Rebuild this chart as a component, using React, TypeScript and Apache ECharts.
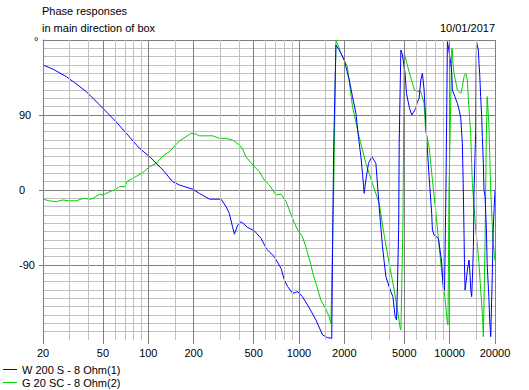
import React, { useEffect, useRef } from 'react';
import * as echarts from 'echarts';

const blueName = 'W 200 S - 8 Ohm(1)';
const greenName = 'G 20 SC - 8 Ohm(2)';

const blueFreq = [20, 23.3, 28.6, 32.3, 38.8, 50, 61, 71.5, 87.4, 102, 125, 145, 161, 197, 218, 255, 304, 328, 345, 362, 373, 392, 413, 457, 506, 560, 610, 686, 760, 800, 841, 908, 980, 1054, 1141, 1297, 1434, 1540, 1650, 1675, 1700, 1759, 1850, 1997, 2156, 2266, 2388, 2480, 2577, 2640, 2710, 2778, 2894, 3048, 3240, 3406, 3583, 3774, 4072, 4200, 4348, 4440, 4505, 4590, 4625, 4744, 4860, 5060, 5170, 5416, 5610, 5960, 6112, 6272, 6436, 6596, 6768, 7010, 7306, 7600, 7684, 7886, 8420, 8816, 8920, 9090, 9250, 9450, 9662, 9880, 10170, 10330, 10424, 10840, 11250, 11560, 11850, 12140, 12300, 12450, 12560, 12660, 12900, 13110, 13450, 13680, 13810, 14000, 14150, 14380, 14520, 14900, 15000, 15080, 15500, 15660, 15820, 16070, 16320, 16480, 16740, 16900, 17180, 17360, 17540, 17740, 18200, 18450, 18730, 19150, 19450, 20000];
const bluePhase = [150, 145, 136, 129, 118, 98, 82, 68, 50, 40, 24, 10, 6, 1, -4, -11, -11, -20, -28, -44, -53, -42, -38, -45, -49, -58, -71, -80, -94, -108, -116, -124, -122, -128, -138, -156, -174, -177, -178, -48, 52, 174, 168, 156, 132, 112, 92, 64, 40, 20, -4, 12, 32, 40, 32, -20, -68, -104, -122, -128, -152, -156, -116, -44, 56, 168, 162, 140, 116, 98, 90, 98, 106, 110, 132, 140, 120, 68, 16, -28, -48, -54, -58, -84, -96, -120, -120, 0, 178, 168, 152, 140, 120, 112, 104, 96, 86, 56, 8, -48, -96, -120, -108, -96, -84, -104, -120, -128, -108, -68, 0, 72, 152, 178, 168, 152, 140, 112, 88, 64, 32, 0, -8, -28, -48, -88, -128, -156, -176, -108, -48, 0];

const greenFreq = [20, 22, 24.5, 27, 30, 33.3, 36.9, 41, 43, 47.5, 50, 55.5, 61, 64.5, 70, 72, 79, 92, 102, 113, 125, 138, 161, 178, 192, 208, 218, 268, 296, 328, 362, 402, 421, 444, 494, 546, 588, 635, 704, 760, 823, 862, 935, 980, 1054, 1110, 1208, 1236, 1297, 1396, 1500, 1586, 1630, 1700, 1760, 1902, 2094, 2266, 2506, 2778, 3072, 3406, 3690, 3966, 4286, 4505, 4694, 4750, 4900, 5000, 5416, 5840, 6272, 6436, 6768, 6920, 7306, 7684, 8114, 8520, 8920, 9290, 9662, 9750, 9900, 10330, 10424, 10520, 10700, 11020, 11250, 11560, 11850, 12140, 12460, 12800, 13110, 13280, 13560, 13810, 14000, 14150, 14520, 14900, 15300, 15660, 16070, 16480, 16740, 16900, 17200, 17500, 17740, 18200, 18730, 19150, 19450, 20000];
const greenPhase = [-11, -13, -14, -12, -13, -13, -10, -11, -10, -5, -6, -2, 1, 4, 4, 10, 14, 21, 28, 32, 41, 46, 59, 64, 68, 67, 65, 65, 62, 62, 60, 54, 50, 40, 30, 22, 12, 6, -6, -5, -14, -24, -40, -48, -56, -68, -92, -100, -112, -132, -142, -152, -160, 0, 180, 164, 148, 100, 64, 32, 8, -16, -56, -88, -120, -144, -166, -168, -40, 164, 140, 120, 118, 118, 104, 72, 52, 12, -28, -68, -104, -128, -160, -162, 0, 170, 168, 152, 140, 128, 120, 118, 116, 124, 136, 140, 132, 112, 88, 64, 32, 8, -20, -48, -68, -88, -120, -148, -176, -176, -60, 60, 112, 80, 0, -40, -64, -85];

const majorFreqs = [20, 50, 100, 200, 500, 1000, 2000, 5000, 10000, 20000];
const minorFreqs = [30, 40, 60, 70, 80, 90, 150, 300, 400, 600, 700, 800, 900, 1500, 3000, 4000, 6000, 7000, 8000, 9000, 15000];
const phaseMajor = [-90, 0, 90];
const phaseMinor = [-170, -160, -150, -140, -130, -120, -110, -100, -80, -70, -60, -50, -40, -30, -20, -10, 10, 20, 30, 40, 50, 60, 70, 80, 100, 110, 120, 130, 140, 150, 160, 170];

const FONT = '"Liberation Sans", Arial, sans-serif';
const LIGHT = '#c0c0c0';
const DARK = '#808080';

export default function App() {
  const ref = useRef<HTMLDivElement>(null);
  useEffect(() => {
    if (!ref.current) return;
    const chart = echarts.init(ref.current, null, { renderer: 'svg' });
    const zip = (fs: number[], ps: number[]) => fs.map((f, i) => [f, ps[i]]);
    const logAxisBase = { type: 'log', logBase: 10, min: 20, max: 20000, gridIndex: 0 };
    const vLines = (vals: number[], color: string, z: number, name: string) => ({
      name, type: 'line', xAxisIndex: 0, yAxisIndex: 0, data: [], z, silent: true,
      markLine: {
        silent: true, symbol: ['none', 'none'], animation: false,
        label: { show: false },
        lineStyle: { color, width: 1, type: 'solid' },
        emphasis: { disabled: true },
        data: vals.map((f) => ({ xAxis: f })),
      },
    });
    chart.setOption({
      animation: false,
      backgroundColor: '#ffffff',
      title: [
        {
          text: 'Phase responses\nin main direction of box',
          left: 42, top: 2, padding: 0,
          textStyle: { fontSize: 11, fontWeight: 'normal', color: '#000', fontFamily: FONT, lineHeight: 17 },
        },
        {
          text: '10/01/2017',
          right: 34, top: 19, padding: 0,
          textStyle: { fontSize: 11, fontWeight: 'normal', color: '#000', fontFamily: FONT, lineHeight: 17 },
        },
      ],
      graphic: [
        { type: 'text', left: 34, top: 35, style: { text: '°', fontSize: 11, fill: '#000', fontFamily: FONT } },
      ],
      legend: {
        orient: 'vertical', left: 3, top: 363, padding: 0,
        itemWidth: 14, itemHeight: 1, itemGap: 0, icon: 'rect',
        data: [blueName, greenName],
        textStyle: { fontSize: 11, color: '#000', fontFamily: FONT, lineHeight: 13 },
        selectedMode: false,
      },
      grid: { left: 43, right: 34, top: 40, bottom: 50, containLabel: false },
      xAxis: [
        {
          ...logAxisBase, position: 'bottom',
          axisLine: { show: false, onZero: false },
          axisTick: { show: true, customValues: majorFreqs, length: 4, lineStyle: { color: DARK } },
          axisLabel: {
            show: true, customValues: majorFreqs, margin: 7,
            fontSize: 11, color: '#000', fontFamily: FONT,
            formatter: (v: number) => String(Math.round(v)),
          },
          minorTick: { show: false },
          minorSplitLine: { show: false },
          splitLine: { show: false },
        },
        {
          ...logAxisBase, position: 'top',
          axisLine: { show: true, onZero: false, lineStyle: { color: DARK, width: 1 } },
          axisTick: { show: false },
          axisLabel: { show: false },
          splitLine: { show: false },
          minorSplitLine: { show: false },
        },
      ],
      yAxis: [
        {
          type: 'value', min: -180, max: 180, position: 'left',
          axisLine: { show: false, onZero: false },
          axisTick: { show: true, customValues: phaseMinor, length: 0, lineStyle: { color: 'rgba(0,0,0,0)' } },
          axisLabel: { show: false },
          splitLine: { show: true, lineStyle: { color: LIGHT, width: 1 } },
          z: 0,
        },
        {
          type: 'value', min: -180, max: 180, position: 'left',
          axisLine: { show: true, onZero: false, lineStyle: { color: DARK, width: 1 } },
          axisTick: { show: true, customValues: phaseMajor, length: 4, lineStyle: { color: DARK } },
          axisLabel: {
            show: true, customValues: phaseMajor, align: 'left', margin: 24,
            fontSize: 11, color: '#000', fontFamily: FONT,
          },
          splitLine: { show: true, lineStyle: { color: DARK, width: 1 } },
          z: 1,
        },
      ],
      series: [
        vLines(minorFreqs, LIGHT, 0, 'minor-grid'),
        vLines(majorFreqs, DARK, 1, 'major-grid'),
        {
          name: blueName, type: 'line', xAxisIndex: 0, yAxisIndex: 0,
          data: zip(blueFreq, bluePhase), symbol: 'none', z: 4,
          lineStyle: { color: '#0000ff', width: 1 }, itemStyle: { color: '#0000ff' },
          emphasis: { disabled: true },
        },
        {
          name: greenName, type: 'line', xAxisIndex: 0, yAxisIndex: 0,
          data: zip(greenFreq, greenPhase), symbol: 'none', z: 3,
          lineStyle: { color: '#00d000', width: 1 }, itemStyle: { color: '#00d000' },
          emphasis: { disabled: true },
        },
      ],
    });
    return () => chart.dispose();
  }, []);
  return <div ref={ref} style={{ position: 'absolute', left: 0, top: 0, width: 529, height: 390 }} />;
}
